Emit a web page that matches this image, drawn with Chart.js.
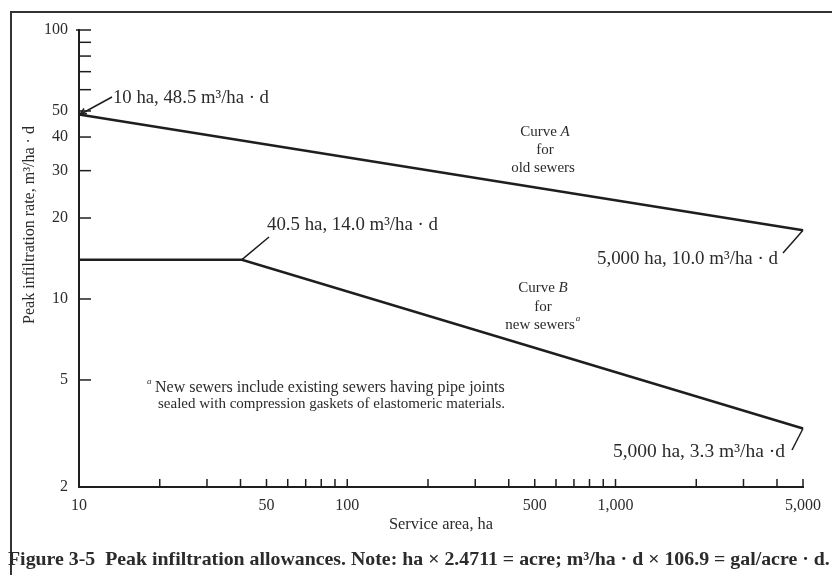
<!DOCTYPE html>
<html>
<head>
<meta charset="utf-8">
<title>Peak infiltration allowances</title>
<script src="https://cdn.jsdelivr.net/npm/chart.js@4.4.1/dist/chart.umd.min.js"></script>
<style>
  html, body { margin: 0; padding: 0; background: #fff; }
  #wrap { width: 832px; height: 575px; position: relative; }
</style>
</head>
<body>
<div id="wrap"><canvas id="infiltrationChart"></canvas></div>
<script>
// Curve A (old sewers) and curve B (new sewers), service area in ha
const curveA_area = [10, 5000];
const curveA_rate = [48.5, 18];
const curveB_area = [10, 40.5, 5000];
const curveB_rate = [14, 14, 3.3];

// tick marks on both log axes, and which of them get a label
const xTickValues = [10, 20, 30, 40, 50, 60, 70, 80, 90, 100, 200, 300, 400, 500, 600, 700, 800, 900, 1000, 2000, 3000, 4000, 5000];
const xTickLabels = { 10: '10', 50: '50', 100: '100', 500: '500', 1000: '1,000', 5000: '5,000' };
const yTickValues = [2, 5, 10, 20, 30, 40, 50, 60, 70, 80, 90, 100];
const yTickLabels = { 2: '2', 5: '5', 10: '10', 20: '20', 30: '30', 40: '40', 50: '50', 100: '100' };

const serif = '"Liberation Serif", "DejaVu Serif", serif';
const ink = '#1e1e1e';
const textInk = '#2b2b2b';

// pick a font size so the text takes the given width
function fitFont(ctx, text, width, extra) {
  extra = extra || '';
  ctx.font = extra + ' 20px ' + serif;
  const w = ctx.measureText(text).width;
  const size = 20 * width / w;
  ctx.font = extra + ' ' + size.toFixed(2) + 'px ' + serif;
  return size;
}

function leader(ctx, x1, y1, x2, y2) {
  ctx.beginPath();
  ctx.moveTo(x1, y1);
  ctx.lineTo(x2, y2);
  ctx.stroke();
}

const paperPlugin = {
  id: 'paper',
  beforeDraw(chart) {
    const ctx = chart.ctx;
    ctx.save();
    ctx.fillStyle = '#fff';
    ctx.fillRect(0, 0, chart.width, chart.height);
    // figure frame (open at right/bottom, as cropped)
    ctx.strokeStyle = '#333';
    ctx.lineWidth = 2;
    ctx.beginPath();
    ctx.moveTo(11, 575);
    ctx.lineTo(11, 12);
    ctx.lineTo(832, 12);
    ctx.stroke();
    ctx.restore();
  },
  afterDraw(chart) {
    const ctx = chart.ctx;
    const xs = chart.scales.x, ys = chart.scales.y;
    const area = chart.chartArea;
    ctx.save();

    // inward tick marks
    ctx.strokeStyle = ink;
    ctx.lineWidth = 1.5;
    yTickValues.forEach(v => {
      const py = ys.getPixelForValue(v);
      leader(ctx, area.left - (v === 100 ? 3 : 0), py, area.left + 12, py);
    });
    xTickValues.forEach(v => {
      if (v === 10) return;
      const px = xs.getPixelForValue(v);
      leader(ctx, px, area.bottom, px, area.bottom - 8);
    });

    // y axis title
    ctx.fillStyle = textInk;
    ctx.textBaseline = 'middle';
    ctx.textAlign = 'center';
    ctx.save();
    ctx.translate(30, 225);
    ctx.rotate(-Math.PI / 2);
    fitFont(ctx, 'Peak infiltration rate, m\u00b3/ha \u00b7 d', 198);
    ctx.fillText('Peak infiltration rate, m\u00b3/ha \u00b7 d', 0, 0);
    ctx.restore();

    // x axis title
    fitFont(ctx, 'Service area, ha', 104);
    ctx.fillText('Service area, ha', 441, 525);

    // caption
    ctx.textAlign = 'left';
    const fig = 'Figure 3-5';
    const rest = '  Peak infiltration allowances. Note: ha \u00d7 2.4711 = acre; m\u00b3/ha \u00b7 d \u00d7 106.9 = gal/acre \u00b7 d.';
    const size = fitFont(ctx, fig + rest, 822, 'bold');
    ctx.fillText(fig + rest, 8, 560);

    // point annotations with leader lines
    ctx.strokeStyle = ink;
    ctx.lineWidth = 1.5;
    const a0x = xs.getPixelForValue(curveA_area[0]), a0y = ys.getPixelForValue(curveA_rate[0]);
    leader(ctx, a0x + 1, a0y, 112, 97);
    leader(ctx, a0x + 1, a0y, a0x + 8, a0y - 1);
    leader(ctx, a0x + 1, a0y, a0x + 5, a0y - 6);
    const a1x = xs.getPixelForValue(curveA_area[1]), a1y = ys.getPixelForValue(curveA_rate[1]);
    leader(ctx, a1x, a1y, 783, 253);
    const bkx = xs.getPixelForValue(curveB_area[1]), bky = ys.getPixelForValue(curveB_rate[1]);
    leader(ctx, bkx, bky, 269, 237);
    const b1x = xs.getPixelForValue(curveB_area[2]), b1y = ys.getPixelForValue(curveB_rate[2]);
    leader(ctx, b1x, b1y, 792, 450);

    ctx.fillStyle = textInk;
    ctx.textAlign = 'left';
    fitFont(ctx, '10 ha, 48.5 m\u00b3/ha \u00b7 d', 156);
    ctx.fillText('10 ha, 48.5 m\u00b3/ha \u00b7 d', 113, 98);
    fitFont(ctx, '40.5 ha, 14.0 m\u00b3/ha \u00b7 d', 171);
    ctx.fillText('40.5 ha, 14.0 m\u00b3/ha \u00b7 d', 267, 225);
    fitFont(ctx, '5,000 ha, 10.0 m\u00b3/ha \u00b7 d', 181);
    ctx.fillText('5,000 ha, 10.0 m\u00b3/ha \u00b7 d', 597, 259);
    fitFont(ctx, '5,000 ha, 3.3 m\u00b3/ha \u00b7d', 172);
    ctx.fillText('5,000 ha, 3.3 m\u00b3/ha \u00b7d', 613, 452);

    // curve names
    ctx.font = '15px ' + serif;
    function curveName(letter, cx, cy) {
      ctx.font = '15px ' + serif;
      const w1 = ctx.measureText('Curve ').width;
      ctx.font = 'italic 15px ' + serif;
      const w2 = ctx.measureText(letter).width;
      const x0 = cx - (w1 + w2) / 2;
      ctx.textAlign = 'left';
      ctx.font = '15px ' + serif;
      ctx.fillText('Curve ', x0, cy);
      ctx.font = 'italic 15px ' + serif;
      ctx.fillText(letter, x0 + w1, cy);
    }
    curveName('A', 545, 132);
    ctx.textAlign = 'center';
    ctx.font = '15px ' + serif;
    ctx.fillText('for', 545, 150);
    ctx.fillText('old sewers', 543, 168);
    curveName('B', 543, 288);
    ctx.textAlign = 'center';
    ctx.font = '15px ' + serif;
    ctx.fillText('for', 543, 307);
    ctx.fillText('new sewers', 540, 325);
    const nsw = ctx.measureText('new sewers').width;
    ctx.font = 'italic 9px ' + serif;
    ctx.textAlign = 'left';
    ctx.fillText('a', 540 + nsw / 2 + 1, 319);

    // footnote
    ctx.font = 'italic 9px ' + serif;
    ctx.fillText('a', 147, 382);
    fitFont(ctx, 'New sewers include existing sewers having pipe joints', 350);
    ctx.fillText('New sewers include existing sewers having pipe joints', 155, 388);
    fitFont(ctx, 'sealed with compression gaskets of elastomeric materials.', 347);
    ctx.fillText('sealed with compression gaskets of elastomeric materials.', 158, 404);

    ctx.restore();
  }
};

const toPoints = (xs, ys) => xs.map((x, i) => ({ x: x, y: ys[i] }));

new Chart(document.getElementById('infiltrationChart').getContext('2d'), {
  type: 'line',
  data: {
    datasets: [
      {
        label: 'Curve A for old sewers',
        data: toPoints(curveA_area, curveA_rate),
        borderColor: ink,
        borderWidth: 2.6,
        pointRadius: 0,
        tension: 0,
        clip: false
      },
      {
        label: 'Curve B for new sewers',
        data: toPoints(curveB_area, curveB_rate),
        borderColor: ink,
        borderWidth: 2.6,
        pointRadius: 0,
        tension: 0,
        clip: false
      }
    ]
  },
  options: {
    responsive: true,
    maintainAspectRatio: false,
    animation: false,
    layout: { padding: { left: 19, right: 29, top: 30, bottom: 48 } },
    plugins: {
      legend: { display: false },
      tooltip: { enabled: false }
    },
    scales: {
      x: {
        type: 'logarithmic',
        min: 10,
        max: 5000,
        grid: { display: false, drawTicks: false },
        border: { display: true, color: ink, width: 2 },
        afterBuildTicks: s => { s.ticks = xTickValues.map(v => ({ value: v })); },
        afterFit: s => { s.height = 40; },
        ticks: {
          autoSkip: false,
          maxRotation: 0,
          padding: 9,
          color: textInk,
          font: { family: serif, size: 16 },
          callback: v => xTickLabels[v] || ''
        }
      },
      y: {
        type: 'logarithmic',
        min: 2,
        max: 100,
        grid: { display: false, drawTicks: false },
        border: { display: true, color: ink, width: 2 },
        afterBuildTicks: s => { s.ticks = yTickValues.map(v => ({ value: v })); },
        afterFit: s => { s.width = 60; },
        ticks: {
          autoSkip: false,
          padding: 11,
          color: textInk,
          font: { family: serif, size: 16 },
          callback: v => yTickLabels[v] || ''
        }
      }
    }
  },
  plugins: [paperPlugin]
});
</script>
</body>
</html>
